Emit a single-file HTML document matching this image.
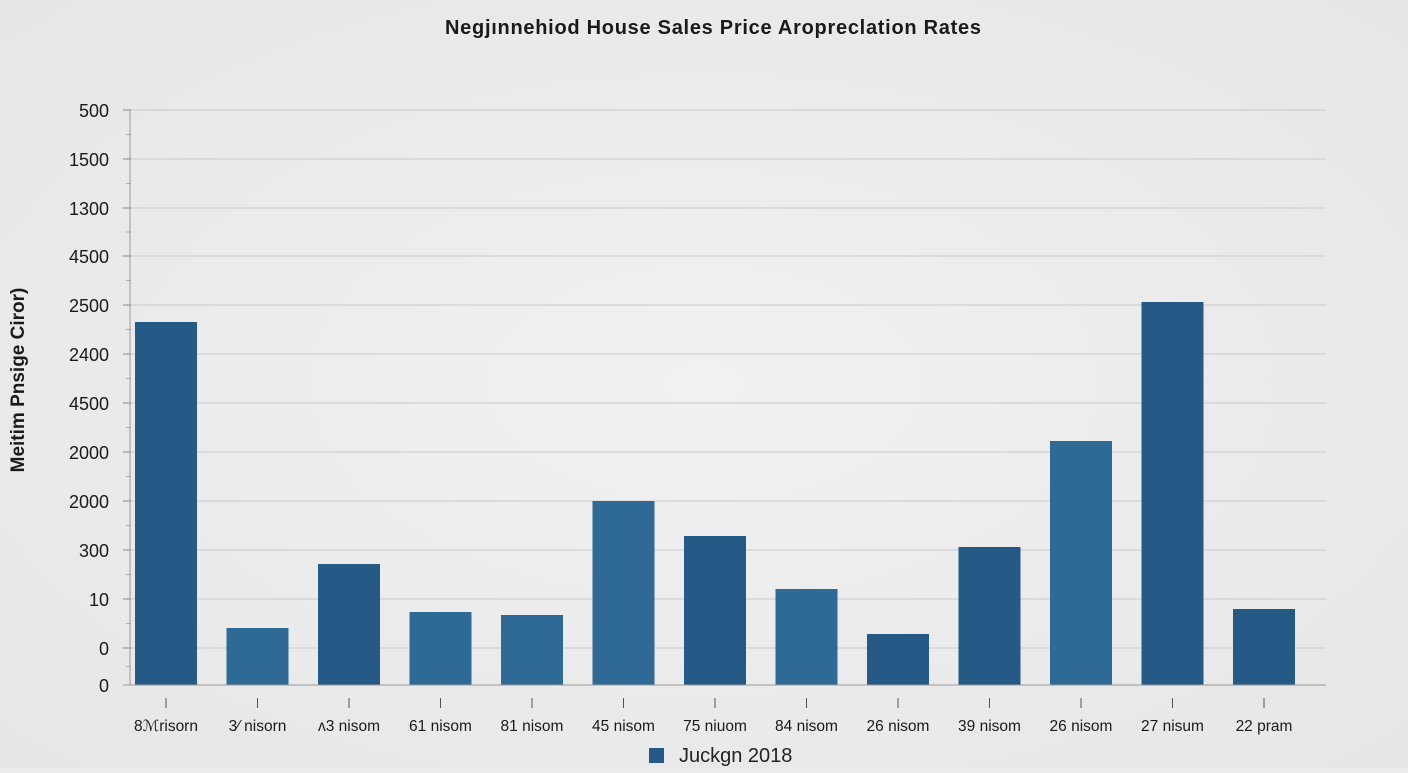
<!DOCTYPE html>
<html><head><meta charset="utf-8">
<style>
body{margin:0;width:1408px;height:768px;background:#ececec;font-family:"Liberation Sans",sans-serif;overflow:hidden}
</style></head>
<body>
<svg id="chart" width="1408" height="768" xmlns="http://www.w3.org/2000/svg">
<defs><radialGradient id="bg" cx="50%" cy="50%" r="70%"><stop offset="0" stop-color="#f1f1f1"/><stop offset="1" stop-color="#e6e6e6"/></radialGradient></defs>
<rect width="1408" height="768" fill="url(#bg)"/>
<text x="713" y="34" text-anchor="middle" font-size="20" font-weight="bold" fill="#1a1a1a" textLength="536">Negjınnehiod House Sales Price Aropreclation Rates</text>
<text transform="translate(24,380) rotate(-90)" text-anchor="middle" font-size="19" font-weight="bold" fill="#1a1a1a">Meitim Pnsige Ciror)</text>
<g id="grid"></g><g id="bars"></g><g id="axes"></g>
<rect x="649" y="748" width="15" height="15" fill="#245a85"/>
<text x="679" y="762" font-size="20" fill="#222">Juckgn 2018</text>
</svg>
<script>
const categories=["8ℳrisorn","3⁄ nisorn","ʌ3 nisom","61 nisom","81 nisom","45 nisom","75 niuom","84 nisom","26 nisom","39 nisom","26 nisom","27 nisum","22 pram"];
const values=[363,57,121,73,70,184,149,96,51,138,244,383,76];
const shades=["#245a85","#2f6a97","#245a85","#2f6a97","#2f6a97","#2f6a97","#245a85","#2f6a97","#245a85","#245a85","#2f6a97","#245a85","#245a85"];
const tickValues=[0,37,86,135,184,233,282,331,380,429,477,526,575];
const tickLabels=["0","0","10","300","2000","2000","4500","2400","2500","4500","1300","1500","500"];
const NS="http://www.w3.org/2000/svg";
const L=130,R=1326,B=685,T=110,yMax=575;
const y=v=>B-(v/yMax)*(B-T);
const x=i=>166+i*91.5;
function mk(t,a,p){const e=document.createElementNS(NS,t);for(const k in a)e.setAttribute(k,a[k]);p.appendChild(e);return e;}
const grid=document.getElementById('grid'),bars=document.getElementById('bars'),axes=document.getElementById('axes');
tickValues.forEach((v,i)=>{
  if(i>0){const g=mk('line',{x1:L,x2:R,y1:y(v),y2:y(v),stroke:'#c9c9c9','stroke-width':1},grid);
  
  }
  const t=mk('text',{x:109,y:y(v)+7,'text-anchor':'end','font-size':18,fill:'#1a1a1a'},axes);
  t.textContent=tickLabels[i];
  
  
  mk('line',{x1:123,x2:131,y1:y(v),y2:y(v),stroke:'#888'},axes);
  if(i<tickValues.length-1){const m=(y(v)+y(tickValues[i+1]))/2;mk('line',{x1:126,x2:131,y1:m,y2:m,stroke:'#aaa'},axes);}
});
mk('line',{x1:L,x2:L,y1:T,y2:B,stroke:'#999'},axes);
mk('line',{x1:123,x2:R,y1:B,y2:B,stroke:'#999'},axes);
values.forEach((v,i)=>{
  const r=mk('rect',{x:x(i)-31,y:y(v),width:62,height:B-y(v),fill:shades[i]},bars);
  
  
  mk('line',{x1:x(i),x2:x(i),y1:698,y2:708,stroke:'#555'},axes);
  const t=mk('text',{x:x(i),y:731,'text-anchor':'middle','font-size':15.5,fill:'#1a1a1a'},axes);
  t.textContent=categories[i];
  
  
});
</script>
</body></html>
